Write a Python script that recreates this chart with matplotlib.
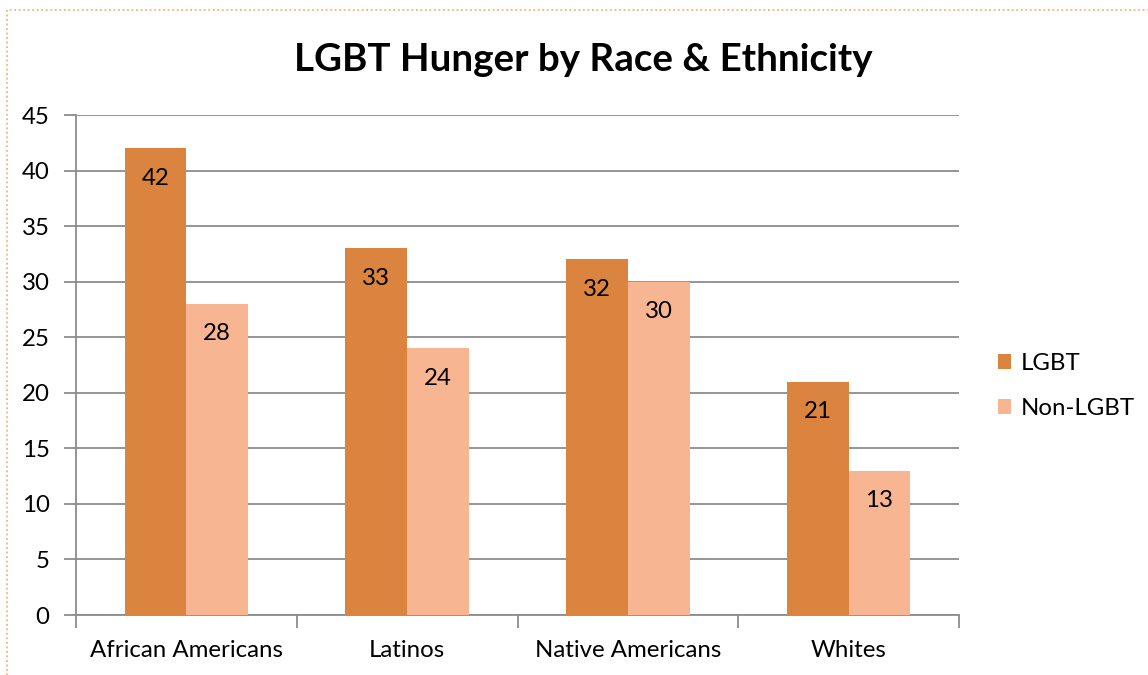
import numpy as np
import matplotlib.pyplot as plt
from matplotlib.patches import Rectangle

categories = ["African Americans", "Latinos", "Native Americans", "Whites"]
lgbt = [42, 33, 32, 21]
non_lgbt = [28, 24, 30, 13]
series_names = ["LGBT", "Non-LGBT"]
yticks = list(range(0, 50, 5))

plt.rcParams['font.family'] = ['Lato', 'DejaVu Sans']

fig = plt.figure(figsize=(11.48, 6.75), dpi=100)
ax = fig.add_axes([76 / 1148, 1 - 615 / 675, (959 - 76) / 1148, 500 / 675])

x = np.arange(len(categories))
w = 0.28
b1 = ax.bar(x - w / 2, lgbt, w, color='#DA843F', label=series_names[0], zorder=3)
b2 = ax.bar(x + w / 2, non_lgbt, w, color='#F8B591', label=series_names[1], zorder=3)

fs = 17.3
# value labels just under the top of each bar
for bars in (b1, b2):
    for r in bars:
        h = r.get_height()
        ax.text(r.get_x() + r.get_width() / 2, h - 2.7, str(int(h)),
                ha='center', va='center', fontsize=fs, color='black', zorder=4)

ax.set_xlim(-0.5, len(categories) - 0.5)
ax.set_ylim(0, 45)
ax.set_yticks(yticks)
ax.set_yticklabels([str(t) for t in yticks], fontsize=fs)
ax.yaxis.grid(True, color='#8c8c8c', linewidth=1.3, zorder=0)
ax.set_axisbelow(True)

ax.set_xticks(x)
ax.set_xticklabels(categories, fontsize=fs)
ax.tick_params(axis='x', length=0, pad=18)
ax.set_xticks(np.arange(-0.5, len(categories)), minor=True)
ax.tick_params(axis='x', which='minor', length=9, width=1.3, color='#8c8c8c', direction='out')
ax.tick_params(axis='y', length=9, width=1.3, color='#8c8c8c', direction='out', pad=10)

for s in ['top', 'right']:
    ax.spines[s].set_visible(False)
for s in ['left', 'bottom']:
    ax.spines[s].set_color('#8c8c8c')
    ax.spines[s].set_linewidth(1.3)

fig.text(583 / 1148, 1 - 60 / 675, "LGBT Hunger by Race & Ethnicity",
         ha='center', va='center', fontsize=27.7, fontweight='bold')

leg = fig.legend(handles=[b1, b2], labels=series_names, loc='center left',
                 bbox_to_anchor=(976 / 1148, 1 - 386 / 675), frameon=False,
                 fontsize=fs, handlelength=0.55, handleheight=0.55,
                 handletextpad=0.4, labelspacing=1.0)

# dotted frame around the chart area
fig.patches.append(Rectangle((7 / 1148, -0.1), 1.2, 1 - 10 / 675 + 0.1,
                             transform=fig.transFigure, fill=False,
                             edgecolor='#F5B17A', linestyle=(0, (1, 1.5)),
                             linewidth=1.3))

fig.savefig("out.png", dpi=100)
